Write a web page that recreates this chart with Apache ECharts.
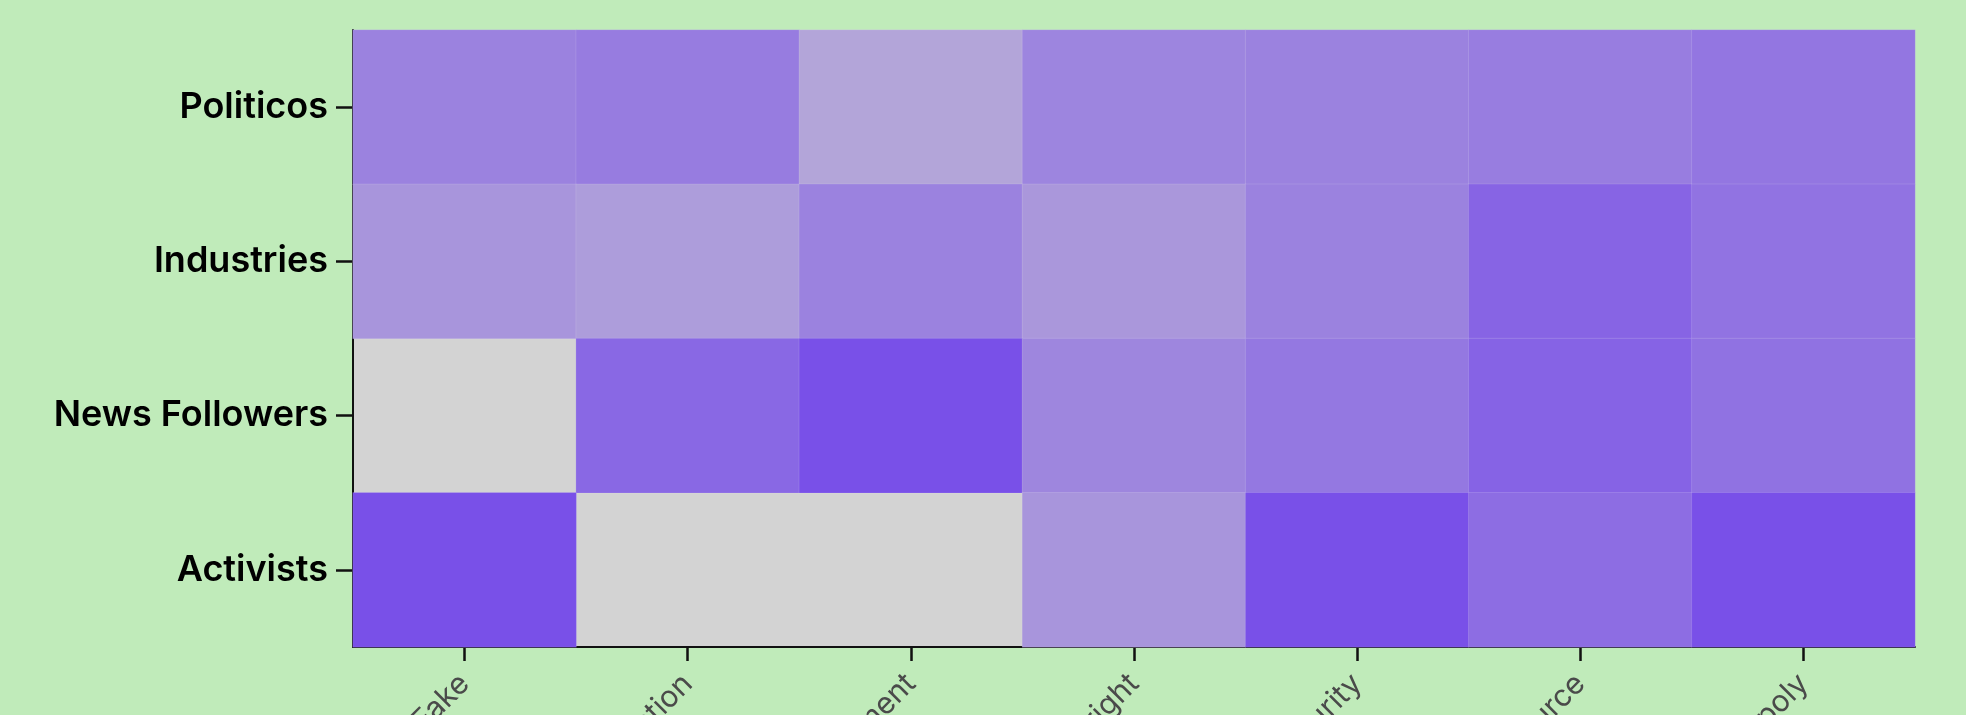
<!DOCTYPE html>
<html>
<head>
<meta charset="utf-8">
<script src="https://cdn.jsdelivr.net/npm/echarts@6/dist/echarts.min.js"></script>
<style>
html,body{margin:0;padding:0;background:#c0ebba;}
#chart{width:1966px;height:715px;}
</style>
</head>
<body>
<div id="chart"></div>
<script>
const topics = ['Deep Fake', 'Misinformation', 'Job Displacement', 'Copyright', 'Security', 'Open Source', 'Monopoly'];
const groups = ['Politicos', 'Industries', 'News Followers', 'Activists'];
// values per group, in topic order; null = no data (gray)
const politicos = [41, 48, 0, 38, 41, 47, 55];
const industries = [19, 10, 41, 16, 41, 76, 59];
const newsFollowers = [null, 72, 100, 36, 53, 78, 60];
const activists = [100, null, null, 19, 100, 66, 100];

const rows = [politicos, industries, newsFollowers, activists];
const data = [];
rows.forEach((row, gi) => {
  row.forEach((v, ti) => {
    if (v !== null) data.push([ti, gi, v]);
  });
});

const chart = echarts.init(document.getElementById('chart'));
chart.setOption({
  backgroundColor: '#c0ebba',
  animation: false,
  grid: {
    left: 353, right: 51, top: 30, bottom: 68,
    outerBoundsMode: 'none', containLabel: false,
    show: true, backgroundColor: '#d3d3d3', borderWidth: 0
  },
  xAxis: {
    type: 'category',
    data: topics,
    axisLine: { show: true, lineStyle: { color: '#111', width: 2 } },
    axisTick: { show: true, alignWithLabel: true, length: 14, lineStyle: { color: '#111', width: 2.5 } },
    axisLabel: {
      rotate: 45, margin: 32, fontSize: 30, color: '#4a4a4a',
      fontFamily: 'Inter', interval: 0
    },
    splitArea: { show: false },
    splitLine: { show: false }
  },
  yAxis: {
    type: 'category',
    data: groups,
    inverse: true,
    axisLine: { show: true, lineStyle: { color: '#111', width: 2 } },
    axisTick: { show: true, alignWithLabel: true, length: 17, lineStyle: { color: '#111', width: 2.5 } },
    axisLabel: {
      margin: 25, fontSize: 36, color: '#000', fontWeight: 600,
      fontFamily: 'Inter'
    },
    splitArea: { show: false },
    splitLine: { show: false }
  },
  visualMap: {
    show: false,
    min: 0, max: 100,
    seriesIndex: 0,
    inRange: { color: ['#b3a5d9', '#7950e8'] }
  },
  series: [{
    type: 'heatmap',
    data: data,
    itemStyle: { borderColor: 'rgba(255,255,255,0.12)', borderWidth: 1 },
    emphasis: { disabled: true }
  }]
});
</script>
</body>
</html>
